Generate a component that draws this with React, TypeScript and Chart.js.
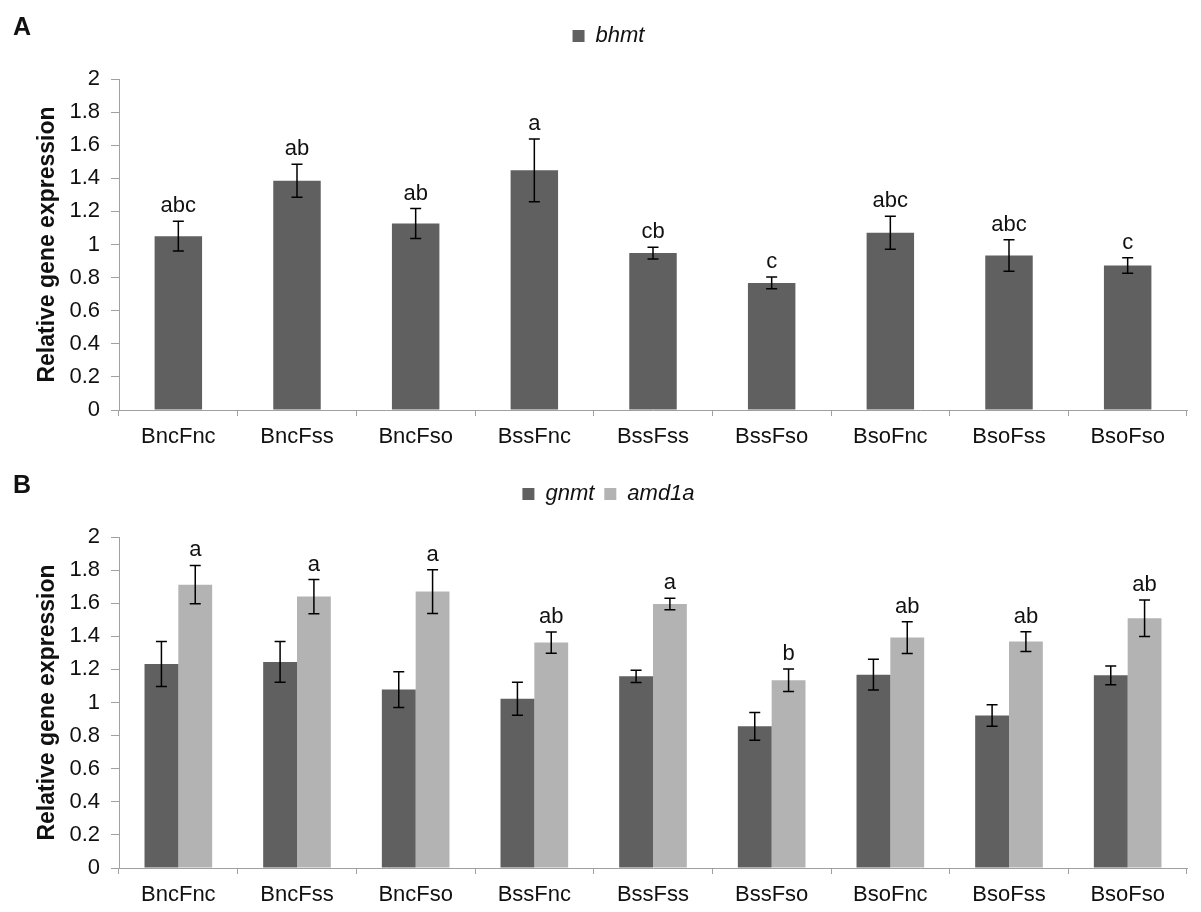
import React, { useEffect, useRef } from 'react';
import { Chart, registerables } from 'chart.js';

Chart.register(...registerables);

const categories = ['BncFnc', 'BncFss', 'BncFso', 'BssFnc', 'BssFss', 'BssFso', 'BsoFnc', 'BsoFss', 'BsoFso'];

const bhmtMeans = [1.05, 1.385, 1.127, 1.448, 0.948, 0.768, 1.071, 0.933, 0.873];
const bhmtErrors = [0.09, 0.1, 0.09, 0.19, 0.036, 0.036, 0.1, 0.095, 0.047];
const bhmtLetters = ['abc', 'ab', 'ab', 'a', 'cb', 'c', 'abc', 'abc', 'c'];

const gnmtMeans = [1.233, 1.245, 1.078, 1.023, 1.158, 0.856, 1.168, 0.922, 1.164];
const gnmtErrors = [0.136, 0.123, 0.108, 0.1, 0.037, 0.084, 0.093, 0.065, 0.057];

const amd1aMeans = [1.712, 1.64, 1.67, 1.362, 1.595, 1.134, 1.392, 1.368, 1.509];
const amd1aErrors = [0.116, 0.103, 0.132, 0.064, 0.035, 0.068, 0.096, 0.06, 0.11];
const amd1aLetters = ['a', 'a', 'a', 'ab', 'a', 'b', 'ab', 'ab', 'ab'];

const yMin = 0;
const yMax = 2;
const yStep = 0.2;
const yTitle = 'Relative gene expression';

const DARK = '#606060';
const LIGHT = '#b3b3b3';
const AXIS = '#a0a0a0';
const TEXT = '#111111';
const FONT = "'Liberation Sans', Arial, Helvetica, sans-serif";

const annotPlugin = {
  id: 'annot',
  afterDatasetsDraw(chart: any, _args: any, opts: any) {
    const { ctx } = chart;
    const yScale = chart.scales.y;
    ctx.save();
    chart.data.datasets.forEach((ds: any, di: number) => {
      const meta = chart.getDatasetMeta(di);
      meta.data.forEach((bar: any, i: number) => {
        const v = ds.data[i];
        const e = ds.errors ? ds.errors[i] : 0;
        const x = bar.x;
        const yTop = yScale.getPixelForValue(v + e);
        const yBot = yScale.getPixelForValue(v - e);
        ctx.strokeStyle = '#000';
        ctx.lineWidth = 1.5;
        ctx.beginPath();
        ctx.moveTo(x, yTop);
        ctx.lineTo(x, yBot);
        ctx.moveTo(x - 5.5, yTop);
        ctx.lineTo(x + 5.5, yTop);
        ctx.moveTo(x - 5.5, yBot);
        ctx.lineTo(x + 5.5, yBot);
        ctx.stroke();
        if (ds.letters && ds.letters[i]) {
          ctx.fillStyle = TEXT;
          ctx.font = `22px ${FONT}`;
          ctx.textAlign = 'center';
          ctx.textBaseline = 'alphabetic';
          ctx.fillText(ds.letters[i], x, yTop - 9);
        }
      });
    });
    if (opts && opts.panel) {
      ctx.fillStyle = TEXT;
      ctx.font = `bold 25px ${FONT}`;
      ctx.textAlign = 'left';
      ctx.textBaseline = 'alphabetic';
      ctx.fillText(opts.panel, 13, 35);
    }
    ctx.restore();
  },
};

function makeConfig(panel: string, datasets: any[], catPct: number): any {
  return {
    type: 'bar',
    data: { labels: categories, datasets },
    plugins: [annotPlugin],
    options: {
      responsive: false,
      animation: false,
      events: [],
      layout: { padding: { left: 30, right: 14, top: 15, bottom: 0 } },
      datasets: { bar: { categoryPercentage: catPct, barPercentage: 1.0 } },
      scales: {
        x: {
          grid: { display: true, drawOnChartArea: false, drawTicks: true, tickLength: 6, color: AXIS, offset: true, lineWidth: 1 },
          border: { display: true, color: AXIS, width: 1 },
          ticks: { color: TEXT, font: { size: 22, family: FONT }, padding: 8, maxRotation: 0, autoSkip: false },
          afterFit: (s: any) => { s.height = 48; },
        },
        y: {
          min: yMin,
          max: yMax,
          grid: { display: true, drawOnChartArea: false, drawTicks: true, tickLength: 8, color: AXIS, lineWidth: 1 },
          border: { display: true, color: AXIS, width: 1 },
          ticks: {
            stepSize: yStep,
            color: TEXT,
            font: { size: 22, family: FONT },
            padding: 11,
            callback: (v: any) => String(Number(Number(v).toFixed(1))),
          },
          title: {
            display: true,
            text: yTitle,
            color: TEXT,
            font: { size: 23, weight: 'bold', family: FONT },
            padding: { top: 4, bottom: 0 },
          },
          afterFit: (s: any) => { s.width = 89; },
        },
      },
      plugins: {
        annot: { panel },
        tooltip: { enabled: false },
        legend: {
          display: true,
          position: 'top',
          labels: {
            boxWidth: 12,
            boxHeight: 12,
            padding: 10,
            color: TEXT,
            font: { size: 22, style: 'italic', family: FONT },
          },
        },
        title: {
          display: true,
          text: '',
          weight: 500,
          position: 'top',
          padding: { top: 0, bottom: 12 },
          font: { size: 10, lineHeight: 1 },
        },
      },
    },
  };
}

function BarPanel({ panel, datasets, catPct, top }: { panel: string; datasets: any[]; catPct: number; top: number }) {
  const ref = useRef<HTMLCanvasElement | null>(null);
  useEffect(() => {
    if (!ref.current) return;
    const chart = new Chart(ref.current, makeConfig(panel, datasets, catPct));
    return () => chart.destroy();
  }, []);
  return (
    <canvas
      ref={ref}
      width={1201}
      height={458}
      style={{ position: 'absolute', left: 0, top, width: 1201, height: 458, display: 'block' }}
    />
  );
}

export default function App() {
  const dsA = [
    {
      label: 'bhmt',
      data: bhmtMeans,
      errors: bhmtErrors,
      letters: bhmtLetters,
      backgroundColor: DARK,
      borderWidth: 0,
    },
  ];
  const dsB = [
    {
      label: 'gnmt',
      data: gnmtMeans,
      errors: gnmtErrors,
      backgroundColor: DARK,
      borderWidth: 0,
    },
    {
      label: 'amd1a',
      data: amd1aMeans,
      errors: amd1aErrors,
      letters: amd1aLetters,
      backgroundColor: LIGHT,
      borderWidth: 0,
    },
  ];
  return (
    <div style={{ position: 'absolute', left: 0, top: 0, width: 1201, height: 912, overflow: 'hidden', background: '#fff' }}>
      <BarPanel panel="A" datasets={dsA} catPct={0.4} top={0} />
      <BarPanel panel="B" datasets={dsB} catPct={0.57} top={458} />
    </div>
  );
}
